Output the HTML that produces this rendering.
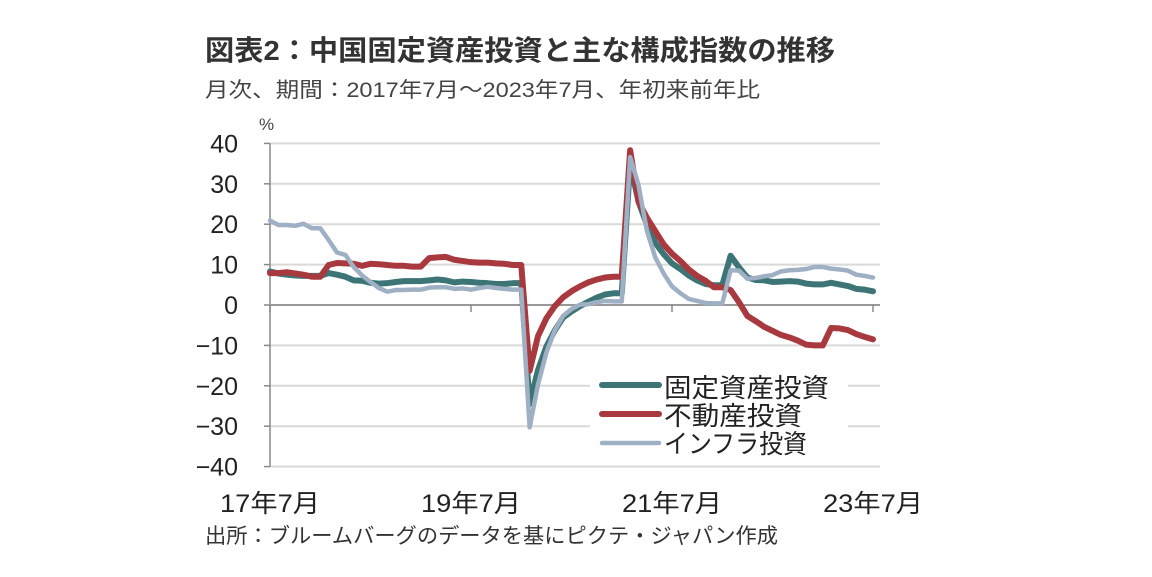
<!DOCTYPE html>
<html><head><meta charset="utf-8"><style>
html,body{margin:0;padding:0;background:#fff;}
svg{display:block;font-family:"Liberation Sans","Noto Sans CJK JP",sans-serif;}
</style></head><body>
<svg width="1152" height="577" viewBox="0 0 1152 577">
<text x="205" y="60" font-size="28" font-weight="bold" fill="#333" textLength="630" lengthAdjust="spacingAndGlyphs">図表2：中国固定資産投資と主な構成指数の推移</text>
<text x="205" y="97" font-size="21" fill="#444" textLength="555" lengthAdjust="spacingAndGlyphs">月次、期間：2017年7月～2023年7月、年初来前年比</text>
<text x="259" y="130" font-size="17" fill="#444">%</text>
<g id="grid"></g>
<g id="yticks"></g>
<g id="xticks"></g>
<g id="series"></g>
<g>
<rect x="590" y="368" width="258" height="92" fill="#fff"/>
<g><line x1="602" y1="385" x2="659" y2="385" stroke="#3d7577" stroke-width="6" stroke-linecap="round"/><text x="664" y="397" font-size="26" fill="#222" textLength="165" lengthAdjust="spacingAndGlyphs">固定資産投資</text></g>
<g><line x1="602" y1="414" x2="659" y2="414" stroke="#a8393f" stroke-width="6" stroke-linecap="round"/><text x="664" y="425" font-size="26" fill="#222" textLength="138" lengthAdjust="spacingAndGlyphs">不動産投資</text></g>
<g><line x1="602" y1="443" x2="659" y2="443" stroke="#a0b0c4" stroke-width="4.5" stroke-linecap="round"/><text x="664" y="453" font-size="26" fill="#222" textLength="143" lengthAdjust="spacingAndGlyphs">インフラ投資</text></g>
</g>
<text x="205" y="543" font-size="21" fill="#333" textLength="573" lengthAdjust="spacingAndGlyphs">出所：ブルームバーグのデータを基にピクテ・ジャパン作成</text>
</svg>
<script>
const yTicks=[40,30,20,10,0,-10,-20,-30,-40];
const xLabels=["17年7月","19年7月","21年7月","23年7月"];
const xLabelIdx=[0,24,48,72];
const fai=[8.3,7.8,7.5,7.3,7.2,7.2,7.2,7.9,7.5,7.0,6.1,6.0,5.5,5.3,5.4,5.7,5.9,5.9,5.9,6.1,6.3,6.1,5.6,5.8,5.7,5.5,5.4,5.2,5.2,5.4,5.4,-24.5,-16.1,-10.3,-6.3,-3.1,-1.6,-0.3,0.8,1.8,2.6,2.9,2.9,35.0,25.6,19.9,15.4,12.6,10.3,8.9,7.3,6.1,5.2,4.9,4.9,12.2,9.3,6.8,6.2,6.1,5.7,5.8,5.9,5.8,5.3,5.1,5.1,5.5,5.1,4.7,4.0,3.8,3.4];
const property=[7.9,7.9,8.1,7.8,7.5,7.0,7.0,9.9,10.4,10.3,10.2,9.7,10.2,10.1,9.9,9.7,9.7,9.5,9.5,11.6,11.8,11.9,11.2,10.9,10.6,10.5,10.5,10.3,10.2,9.9,9.9,-16.3,-7.7,-3.3,-0.3,1.9,3.4,4.6,5.6,6.3,6.8,7.0,7.0,38.3,25.6,21.6,18.3,15.0,12.7,10.9,8.8,7.2,6.0,4.4,4.4,3.7,0.7,-2.7,-4.0,-5.4,-6.4,-7.4,-8.0,-8.8,-9.8,-10.0,-10.0,-5.7,-5.8,-6.2,-7.2,-7.9,-8.5];
const infra=[20.9,19.8,19.8,19.6,20.1,19.0,19.0,16.1,13.0,12.4,9.4,7.3,5.7,4.2,3.3,3.7,3.7,3.8,3.8,4.3,4.4,4.4,4.0,4.1,3.8,4.2,4.5,4.2,4.0,3.8,3.8,-30.3,-19.7,-11.8,-6.3,-2.7,-1.0,0.1,0.2,0.7,1.0,0.9,0.9,36.6,29.7,18.4,11.8,7.8,4.6,2.9,1.5,1.0,0.5,0.4,0.4,8.6,8.5,6.5,6.7,7.1,7.4,8.3,8.6,8.7,8.9,9.4,9.4,9.0,8.8,8.5,7.5,7.2,6.8];
const NS="http://www.w3.org/2000/svg";
const X=i=>270+i*(603/72);
const Y=v=>305-v*4.04;
function mk(t,a,p){const e=document.createElementNS(NS,t);for(const k in a)e.setAttribute(k,a[k]);p.appendChild(e);return e;}
const grid=document.getElementById('grid'),yt=document.getElementById('yticks'),xt=document.getElementById('xticks'),se=document.getElementById('series');
yTicks.forEach(v=>{
  if(v!==0){const g=mk('line',{x1:270,x2:880,y1:Y(v),y2:Y(v),stroke:'#d9d9d9','stroke-width':2},grid);
  
  }
  const tk=mk('line',{x1:264,x2:270,y1:Y(v),y2:Y(v),stroke:'#888','stroke-width':1.5},yt);
  const t=mk('text',{x:238,y:Y(v)+9,'font-size':25,'text-anchor':'end',fill:'#222'},yt);
  t.textContent=String(v).replace('-','−');
  
  
});
mk('line',{x1:270,x2:270,y1:Y(40),y2:Y(-40),stroke:'#888','stroke-width':1.5},yt);
mk('line',{x1:270,x2:880,y1:Y(0),y2:Y(0),stroke:'#999','stroke-width':2},xt);
xLabels.forEach((s,k)=>{
  const x=X(xLabelIdx[k]);
  mk('line',{x1:x,x2:x,y1:Y(0),y2:Y(0)+7,stroke:'#888','stroke-width':1.5},xt);
  const t=mk('text',{x:x,y:512,'font-size':25,'text-anchor':'middle',fill:'#222',textLength:100,lengthAdjust:'spacingAndGlyphs'},xt);
  t.textContent=s;
  
  
});
function line(d,c,w,name){
  const p=mk('polyline',{points:d.map((v,i)=>X(i)+','+Y(v)).join(' '),fill:'none',stroke:c,'stroke-width':w,'stroke-linejoin':'round','stroke-linecap':'round'},se);
  
  
}
line(fai,'#3d7577',6,'line-fai');
line(property,'#a8393f',6,'line-property');
line(infra,'#a0b0c4',4.5,'line-infra');
</script>
</body></html>
